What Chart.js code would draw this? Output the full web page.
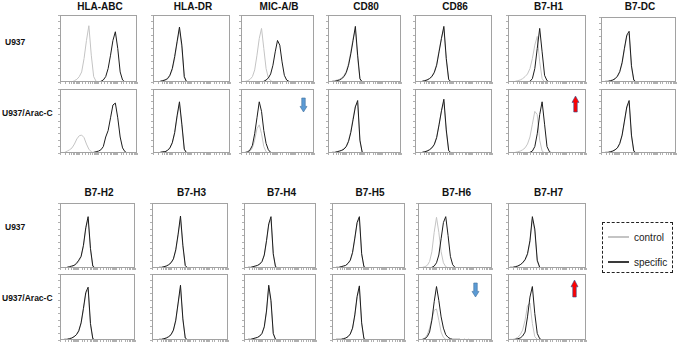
<!DOCTYPE html>
<html><head><meta charset="utf-8">
<script src="https://cdn.jsdelivr.net/npm/chart.js@4"></script>
<style>
html,body{margin:0;padding:0;background:#fff;}
body{width:677px;height:342px;position:relative;overflow:hidden;font-family:"Liberation Sans",Arial,sans-serif;color:#111;}
.panel{position:absolute;}
.ttl{position:absolute;font-weight:bold;font-size:10px;transform:translate(-50%,-50%);white-space:nowrap;}
.rowlab{position:absolute;font-weight:bold;font-size:8.5px;transform:translateY(-50%);white-space:nowrap;}
.legend{position:absolute;left:602px;top:222px;width:69px;height:49px;border:1px dashed #222;}
.legend .ln{position:absolute;left:5px;width:21px;height:2px;}
.legend .tx{position:absolute;left:31px;font-size:10px;transform:translateY(-50%);white-space:nowrap;color:#222;}
svg.arrow{position:absolute;overflow:visible;}
</style></head><body>
<script>
// ---------------- DATA ----------------
const channels = [1,1.334,1.778,2.371,3.162,4.217,5.623,7.499,10,13.34,17.78,23.71,31.62,42.17,56.23,74.99,100,133.4,177.8,237.1,316.2,421.7,562.3,749.9,1000,1334,1778,2371,3162,4217,5623,7499,10000];
const markers = ['HLA-ABC','HLA-DR','MIC-A/B','CD80','CD86','B7-H1','B7-DC','B7-H2','B7-H3','B7-H4','B7-H5','B7-H6','B7-H7'];
const cellLines = ['U937','U937/Arac-C'];
const seriesNames = ['control','specific'];
const downMarkers = ['MIC-A/B','B7-H6'];
const upMarkers = ['B7-H1','B7-H7'];

const hlaAbcU937Ctrl = [0,0,0,0,0,0,2,4,8,15,35,62,84,40,8,1,0,0,0,0,0,0,0,0,0,0,0,0,0,0,0,0,0];
const hlaAbcU937Spec = [0,0,0,0,0,0,0,0,0,0,0,0,0,0,0,0,0,1,3,8,20,40,62,75,50,15,3,0,0,0,0,0,0];
const hlaAbcAraCtrl  = [0,0,1,3,5,8,14,22,27,28,24,14,6,2,0,0,0,0,0,0,0,0,0,0,0,0,0,0,0,0,0,0,0];
const hlaAbcAraSpec  = [0,0,0,0,0,0,0,0,0,0,0,0,0,0,1,2,3,5,10,25,35,55,75,78,55,25,8,2,0,0,0,0,0];
const hlaDrU937Ctrl  = [0,0,0,1,2,3,4,9,18,35,58,78,50,6,0,0,0,0,0,0,0,0,0,0,0,0,0,0,0,0,0,0,0];
const hlaDrU937Spec  = [0,0,0,1,2,3,5,10,20,38,60,82,55,8,0,0,0,0,0,0,0,0,0,0,0,0,0,0,0,0,0,0,0];
const hlaDrAraCtrl   = [0,0,0,1,1,2,4,7,15,30,55,76,42,5,0,0,0,0,0,0,0,0,0,0,0,0,0,0,0,0,0,0,0];
const hlaDrAraSpec   = [0,0,0,1,2,2,4,8,16,32,58,80,45,6,0,0,0,0,0,0,0,0,0,0,0,0,0,0,0,0,0,0,0];
const micAbU937Ctrl  = [0,0,1,2,4,8,18,40,65,80,50,20,6,2,0,0,0,0,0,0,0,0,0,0,0,0,0,0,0,0,0,0,0];
const micAbU937Spec  = [0,0,0,0,0,0,0,0,0,0,1,3,6,12,25,45,62,55,30,10,3,1,0,0,0,0,0,0,0,0,0,0,0];
const micAbAraCtrl   = [0,0,0,1,3,8,20,38,44,30,10,2,0,0,0,0,0,0,0,0,0,0,0,0,0,0,0,0,0,0,0,0,0];
const micAbAraSpec   = [0,0,1,2,5,12,30,55,80,65,35,15,5,1,0,0,0,0,0,0,0,0,0,0,0,0,0,0,0,0,0,0,0];
const cd80U937Ctrl   = [0,0,1,2,3,4,6,10,16,28,45,65,78,35,4,0,0,0,0,0,0,0,0,0,0,0,0,0,0,0,0,0,0];
const cd80U937Spec   = [0,0,1,1,2,3,5,8,14,25,42,62,83,40,5,0,0,0,0,0,0,0,0,0,0,0,0,0,0,0,0,0,0];
const cd80AraCtrl    = [0,0,1,1,2,3,5,7,11,20,34,55,74,78,18,1,0,0,0,0,0,0,0,0,0,0,0,0,0,0,0,0,0];
const cd80AraSpec    = [0,0,1,1,2,3,4,6,10,18,32,52,72,82,20,1,0,0,0,0,0,0,0,0,0,0,0,0,0,0,0,0,0];
const cd86U937Ctrl   = [0,0,0,1,2,3,5,9,15,27,47,66,80,32,3,0,0,0,0,0,0,0,0,0,0,0,0,0,0,0,0,0,0];
const cd86U937Spec   = [0,0,0,1,2,3,5,8,14,25,45,65,83,35,4,0,0,0,0,0,0,0,0,0,0,0,0,0,0,0,0,0,0];
const cd86AraCtrl    = [0,0,0,1,2,3,5,8,14,25,45,65,80,33,3,0,0,0,0,0,0,0,0,0,0,0,0,0,0,0,0,0,0];
const cd86AraSpec    = [0,0,0,1,2,3,5,8,13,24,44,66,84,36,4,0,0,0,0,0,0,0,0,0,0,0,0,0,0,0,0,0,0];
const b7h1U937Ctrl   = [0,0,0,1,2,3,5,8,12,20,35,55,68,30,5,0,0,0,0,0,0,0,0,0,0,0,0,0,0,0,0,0,0];
const b7h1U937Spec   = [0,0,0,0,0,0,0,0,0,1,5,20,50,80,45,10,2,0,0,0,0,0,0,0,0,0,0,0,0,0,0,0,0];
const b7h1AraCtrl    = [0,0,0,1,2,3,5,8,14,25,45,65,60,20,3,0,0,0,0,0,0,0,0,0,0,0,0,0,0,0,0,0,0];
const b7h1AraSpec    = [0,0,0,0,0,0,0,0,0,1,3,10,30,60,80,45,10,2,0,0,0,0,0,0,0,0,0,0,0,0,0,0,0];
const b7dcU937Ctrl   = [0,0,1,1,2,3,5,8,15,28,50,70,74,22,2,0,0,0,0,0,0,0,0,0,0,0,0,0,0,0,0,0,0];
const b7dcU937Spec   = [0,0,1,1,2,3,5,9,16,30,52,72,78,25,3,0,0,0,0,0,0,0,0,0,0,0,0,0,0,0,0,0,0];
const b7dcAraCtrl    = [0,0,1,1,2,3,5,8,14,27,48,70,78,25,2,0,0,0,0,0,0,0,0,0,0,0,0,0,0,0,0,0,0];
const b7dcAraSpec    = [0,0,1,1,2,3,5,8,15,28,50,72,82,28,3,0,0,0,0,0,0,0,0,0,0,0,0,0,0,0,0,0,0];
const b7h2U937Ctrl   = [0,0,0,1,1,2,4,6,10,17,33,60,75,28,2,0,0,0,0,0,0,0,0,0,0,0,0,0,0,0,0,0,0];
const b7h2U937Spec   = [0,0,0,1,2,3,4,7,12,18,35,62,79,30,3,0,0,0,0,0,0,0,0,0,0,0,0,0,0,0,0,0,0];
const b7h2AraCtrl    = [0,0,1,1,2,3,5,8,13,25,46,70,76,22,2,0,0,0,0,0,0,0,0,0,0,0,0,0,0,0,0,0,0];
const b7h2AraSpec    = [0,0,1,1,2,3,5,8,14,26,48,72,80,25,2,0,0,0,0,0,0,0,0,0,0,0,0,0,0,0,0,0,0];
const b7h3U937Ctrl   = [0,0,0,1,1,2,3,5,8,13,26,50,76,32,3,0,0,0,0,0,0,0,0,0,0,0,0,0,0,0,0,0,0];
const b7h3U937Spec   = [0,0,0,1,1,2,3,5,8,14,28,52,80,35,4,0,0,0,0,0,0,0,0,0,0,0,0,0,0,0,0,0,0];
const b7h3AraCtrl    = [0,0,0,1,1,2,3,5,8,14,28,54,79,30,3,0,0,0,0,0,0,0,0,0,0,0,0,0,0,0,0,0,0];
const b7h3AraSpec    = [0,0,0,1,1,2,3,5,8,15,30,56,83,32,3,0,0,0,0,0,0,0,0,0,0,0,0,0,0,0,0,0,0];
const b7h4U937Ctrl   = [0,0,1,1,2,3,4,6,10,19,40,66,75,20,2,0,0,0,0,0,0,0,0,0,0,0,0,0,0,0,0,0,0];
const b7h4U937Spec   = [0,0,1,1,2,3,4,6,10,20,42,68,79,22,2,0,0,0,0,0,0,0,0,0,0,0,0,0,0,0,0,0,0];
const b7h4AraCtrl    = [0,0,1,1,2,3,4,6,10,19,42,79,56,9,1,0,0,0,0,0,0,0,0,0,0,0,0,0,0,0,0,0,0];
const b7h4AraSpec    = [0,0,1,1,2,3,4,6,10,20,44,83,60,10,1,0,0,0,0,0,0,0,0,0,0,0,0,0,0,0,0,0,0];
const b7h5U937Ctrl   = [0,0,1,1,2,3,4,7,11,22,44,68,76,20,2,0,0,0,0,0,0,0,0,0,0,0,0,0,0,0,0,0,0];
const b7h5U937Spec   = [0,0,1,1,2,3,4,7,12,24,46,70,79,22,2,0,0,0,0,0,0,0,0,0,0,0,0,0,0,0,0,0,0];
const b7h5AraCtrl    = [0,0,1,1,1,2,3,5,9,17,36,64,78,24,2,0,0,0,0,0,0,0,0,0,0,0,0,0,0,0,0,0,0];
const b7h5AraSpec    = [0,0,1,1,1,2,3,5,9,18,38,66,82,26,2,0,0,0,0,0,0,0,0,0,0,0,0,0,0,0,0,0,0];
const b7h6U937Ctrl   = [0,0,1,2,4,10,25,55,78,55,25,8,2,0,0,0,0,0,0,0,0,0,0,0,0,0,0,0,0,0,0,0,0];
const b7h6U937Spec   = [0,0,0,0,0,0,1,3,8,20,45,70,79,50,18,5,1,0,0,0,0,0,0,0,0,0,0,0,0,0,0,0,0];
const b7h6AraCtrl    = [0,0,1,3,8,18,32,45,47,30,12,4,1,0,0,0,0,0,0,0,0,0,0,0,0,0,0,0,0,0,0,0,0];
const b7h6AraSpec    = [0,0,1,2,5,12,30,58,81,60,35,18,8,4,2,1,1,1,1,0,1,0,1,0,0,0,0,0,0,0,0,0,0];
const b7h7U937Ctrl   = [0,1,1,2,3,5,8,12,20,40,75,56,10,1,0,0,0,0,0,0,0,0,0,0,0,0,0,0,0,0,0,0,0];
const b7h7U937Spec   = [0,1,1,2,3,5,8,13,22,42,79,60,12,1,0,0,0,0,0,0,0,0,0,0,0,0,0,0,0,0,0,0,0];
const b7h7AraCtrl    = [0,1,1,2,4,8,15,30,52,56,25,5,1,0,0,0,0,0,0,0,0,0,0,0,0,0,0,0,0,0,0,0,0];
const b7h7AraSpec    = [0,0,0,1,2,3,6,12,35,65,81,40,10,2,0,0,0,0,0,0,0,0,0,0,0,0,0,0,0,0,0,0,0];

// table: marker -> [U937 [ctrl,spec], Arac-C [ctrl,spec]]
const curveTable = [
  [[hlaAbcU937Ctrl,hlaAbcU937Spec],[hlaAbcAraCtrl,hlaAbcAraSpec]],
  [[hlaDrU937Ctrl,hlaDrU937Spec],[hlaDrAraCtrl,hlaDrAraSpec]],
  [[micAbU937Ctrl,micAbU937Spec],[micAbAraCtrl,micAbAraSpec]],
  [[cd80U937Ctrl,cd80U937Spec],[cd80AraCtrl,cd80AraSpec]],
  [[cd86U937Ctrl,cd86U937Spec],[cd86AraCtrl,cd86AraSpec]],
  [[b7h1U937Ctrl,b7h1U937Spec],[b7h1AraCtrl,b7h1AraSpec]],
  [[b7dcU937Ctrl,b7dcU937Spec],[b7dcAraCtrl,b7dcAraSpec]],
  [[b7h2U937Ctrl,b7h2U937Spec],[b7h2AraCtrl,b7h2AraSpec]],
  [[b7h3U937Ctrl,b7h3U937Spec],[b7h3AraCtrl,b7h3AraSpec]],
  [[b7h4U937Ctrl,b7h4U937Spec],[b7h4AraCtrl,b7h4AraSpec]],
  [[b7h5U937Ctrl,b7h5U937Spec],[b7h5AraCtrl,b7h5AraSpec]],
  [[b7h6U937Ctrl,b7h6U937Spec],[b7h6AraCtrl,b7h6AraSpec]],
  [[b7h7U937Ctrl,b7h7U937Spec],[b7h7AraCtrl,b7h7AraSpec]]
];

// ---------------- LAYOUT ----------------
const colBoxes = [[60,77],[153,77],[241,73],[328,73],[415,77],[508,78],[601,75],
                  [60,75],[152,76],[244,72],[332,73],[418,74],[508,78]];
const rowBoxes = [[[15,67],[89,64]],[[203,65],[274,66]]]; // [section][row] -> [top,height]
const sectionOf = i => (i < 7 ? 0 : 1);
const titleY = [6, 192];
const rowLabelPos = [[[5,42],[2,113]],[[5,227],[2,298]]];
const arrowPos = {'MIC-A/B':[300,98,7,14],'B7-H1':[572,96,7,16],'B7-H6':[472,283,7,14],'B7-H7':[571,280,7,17]};

const TICK = 2;
const frame = {
  id:'frame',
  afterDraw(chart){
    const {ctx, chartArea:a} = chart;
    ctx.save();
    ctx.strokeStyle = '#a2a2a2'; ctx.lineWidth = 1;
    const l = Math.round(a.left), t = Math.round(a.top), r = Math.round(a.right), b = Math.round(a.bottom);
    ctx.strokeRect(l+0.5, t+0.5, r-l-1, b-t-1);
    ctx.restore();
  }
};

function addDiv(cls, text, css){
  const d = document.createElement('div'); d.className = cls; if (text!=null) d.textContent = text;
  Object.assign(d.style, css); document.body.appendChild(d); return d;
}

markers.forEach((m, mi) => {
  const sec = sectionOf(mi);
  const [L, W] = colBoxes[mi];
  addDiv('ttl', m, {left:(L + W/2 + 1.5)+'px', top:titleY[sec]+'px'});
  cellLines.forEach((cl, ri) => {
    let [T, H] = rowBoxes[sec][ri];
    if (m === 'B7-DC' && ri === 0) { T = 17; H = 65; }
    const wrap = addDiv('panel', null, {left:(L-TICK)+'px', top:(T-1)+'px', width:(W+TICK+1)+'px', height:(H+TICK+1)+'px'});
    const cv = document.createElement('canvas'); wrap.appendChild(cv);
    const [ctrl, spec] = curveTable[mi][ri];
    const mk = arr => channels.map((x, k) => ({x, y: arr[k]}));
    new Chart(cv, {
      type:'line',
      data:{datasets:[
        {label:seriesNames[1], data:mk(spec), borderColor:'#1c1c1c', borderWidth:1, pointRadius:0, tension:0, fill:false},
        {label:seriesNames[0], data:mk(ctrl), borderColor:'#c4c4c4', borderWidth:1, pointRadius:0, tension:0, fill:false}
      ]},
      options:{
        responsive:true, maintainAspectRatio:false, animation:false, devicePixelRatio:1,
        layout:{padding:{top:1,right:1,left:0,bottom:0}},
        plugins:{legend:{display:false}, tooltip:{enabled:false}, title:{display:false}},
        events:[],
        scales:{
          x:{type:'logarithmic', min:1, max:10000,
             ticks:{display:false},
             grid:{display:true, drawOnChartArea:false, drawTicks:true, tickLength:TICK, color:'#b0b0b0', lineWidth:1},
             border:{display:false}},
          y:{type:'linear', min:0, max:100,
             ticks:{display:false, stepSize:10},
             grid:{display:true, drawOnChartArea:false, drawTicks:true, tickLength:TICK, color:'#b0b0b0', lineWidth:1},
             border:{display:false}}
        }
      },
      plugins:[frame]
    });
  });
});

// row labels
rowLabelPos.forEach(sec => sec.forEach(([x,y], ri) => addDiv('rowlab', cellLines[ri], {left:x+'px', top:y+'px'})));

// legend
const lg = addDiv('legend', null, {});
[['#c4c4c4',13],['#3a3a3a',38]].forEach(([c,y], i) => {
  const ln = document.createElement('div'); ln.className='ln'; ln.style.background=c; ln.style.top=y+'px'; lg.appendChild(ln);
  const tx = document.createElement('div'); tx.className='tx'; tx.textContent=seriesNames[i]; tx.style.top=(y+1)+'px'; lg.appendChild(tx);
});

// arrows
function arrow(name, dir){
  const [x,y,w,h] = arrowPos[name];
  const ns = 'http://www.w3.org/2000/svg';
  const s = document.createElementNS(ns,'svg'); s.setAttribute('class','arrow');
  s.setAttribute('width',w); s.setAttribute('height',h);
  s.style.left = x+'px'; s.style.top = y+'px';
  const p = document.createElementNS(ns,'polygon');
  const sw = w*0.25, hh = h*0.4;
  let pts;
  if (dir==='down') pts = [[sw,0],[w-sw,0],[w-sw,h-hh],[w,h-hh],[w/2,h],[0,h-hh],[sw,h-hh]];
  else pts = [[w/2,0],[w,hh],[w-sw,hh],[w-sw,h],[sw,h],[sw,hh],[0,hh]];
  p.setAttribute('points', pts.map(q=>q.join(',')).join(' '));
  if (dir==='down'){ p.setAttribute('fill','#5b9bd5'); p.setAttribute('stroke','#41719c'); }
  else { p.setAttribute('fill','#ff0000'); p.setAttribute('stroke','#2f4f8f'); }
  p.setAttribute('stroke-width','0.6');
  s.appendChild(p); document.body.appendChild(s);
}
downMarkers.forEach(m => arrow(m,'down'));
upMarkers.forEach(m => arrow(m,'up'));
</script>
</body></html>
